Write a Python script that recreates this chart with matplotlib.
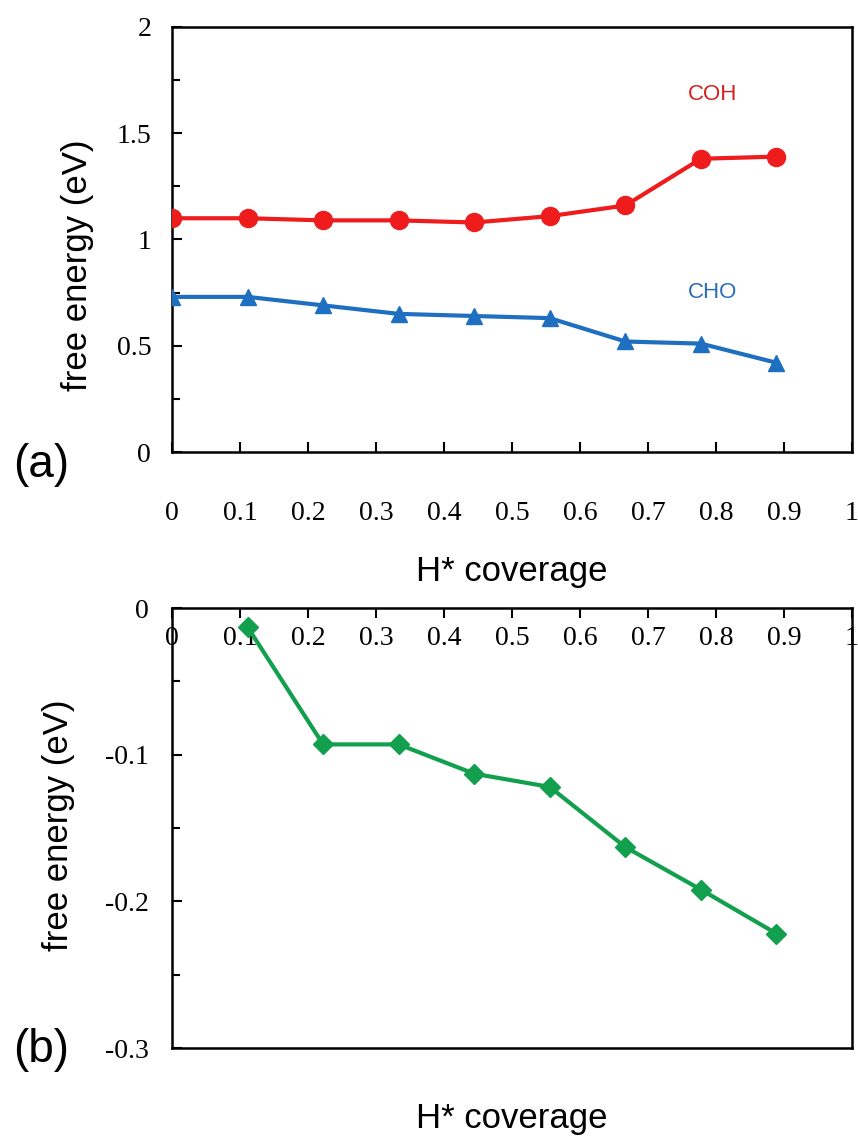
import matplotlib
matplotlib.use("Agg")
import matplotlib.pyplot as plt
from matplotlib.ticker import MultipleLocator, FuncFormatter

plt.rcParams['axes.unicode_minus'] = False

coverage = [0, 1/9, 2/9, 3/9, 4/9, 5/9, 6/9, 7/9, 8/9]
coh = [1.10, 1.10, 1.09, 1.09, 1.08, 1.11, 1.16, 1.38, 1.39]
cho = [0.73, 0.73, 0.69, 0.65, 0.64, 0.63, 0.52, 0.51, 0.42]
coverage_b = [1/9, 2/9, 3/9, 4/9, 5/9, 6/9, 7/9, 8/9]
diff = [-0.013, -0.093, -0.093, -0.113, -0.122, -0.163, -0.192, -0.222]

RED = '#ee1c1c'
BLUE = '#1f6fc0'
GREEN = '#12a04e'

W, H = 858, 1142
fig = plt.figure(figsize=(W/100, H/100), dpi=100)

serif = 'Liberation Serif'
sans = 'Liberation Sans'
fmt = FuncFormatter(lambda v, p: ('%g' % round(v, 6)))
TICKFS = 20
LABFS = 25

def px_axes(l, t, r, b):
    return [l/W, 1 - b/H, (r-l)/W, (b-t)/H]

# ---------- (a) ----------
ax1 = fig.add_axes(px_axes(172, 27, 852, 452))
ax1.plot(coverage, coh, color=RED, lw=3, marker='o', ms=13, mfc=RED, mec=RED, zorder=3)
ax1.plot(coverage, cho, color=BLUE, lw=3, marker='^', ms=12, mfc=BLUE, mec=BLUE, zorder=3)
ax1.set_xlim(0, 1)
ax1.set_ylim(0, 2)
ax1.xaxis.set_major_locator(MultipleLocator(0.1))
ax1.yaxis.set_major_locator(MultipleLocator(0.5))
ax1.yaxis.set_minor_locator(MultipleLocator(0.25))
ax1.xaxis.set_major_formatter(fmt)
ax1.yaxis.set_major_formatter(fmt)
ax1.tick_params(axis='x', which='major', direction='in', length=7, width=1.5, pad=35)
ax1.tick_params(axis='y', which='both', direction='in', length=7, width=1.5, pad=15)
ax1.tick_params(axis='y', which='minor', length=6)
for lab in ax1.get_xticklabels() + ax1.get_yticklabels():
    lab.set_fontfamily(serif)
    lab.set_fontsize(TICKFS)
for s in ax1.spines.values():
    s.set_linewidth(1.8)
ax1.text(0.795, 1.68, 'COH', color='#d42020', fontsize=16, family=sans, ha='center', va='center')
ax1.text(0.795, 0.75, 'CHO', color='#2a6db5', fontsize=16, family=sans, ha='center', va='center')
ax1.set_xlabel('H* coverage', fontsize=LABFS, family=sans)
ax1.xaxis.set_label_coords(0.5, (452-555)/425)
ax1.set_ylabel('free energy (eV)', fontsize=LABFS, family=sans)
ax1.yaxis.set_label_coords((94-172)/680, (452-265)/425)
fig.text(41/W, 1-465/H, '(a)', fontsize=33, family=sans, ha='center', va='center')

# ---------- (b) ----------
ax2 = fig.add_axes(px_axes(172, 608, 852, 1048))
ax2.plot(coverage_b, diff, color=GREEN, lw=3, marker='D', ms=10, mfc=GREEN, mec=GREEN, zorder=3)
ax2.set_xlim(0, 1)
ax2.set_ylim(-0.3, 0)
ax2.xaxis.set_major_locator(MultipleLocator(0.1))
ax2.yaxis.set_major_locator(MultipleLocator(0.1))
ax2.yaxis.set_minor_locator(MultipleLocator(0.05))
ax2.xaxis.set_major_formatter(fmt)
ax2.yaxis.set_major_formatter(fmt)
ax2.xaxis.tick_top()
ax2.tick_params(axis='x', which='major', direction='in', length=7, width=1.5, pad=-31)
ax2.tick_params(axis='y', which='both', direction='in', length=7, width=1.5, pad=17)
ax2.tick_params(axis='y', which='minor', length=6)
for lab in ax2.get_xticklabels() + ax2.get_yticklabels():
    lab.set_fontfamily(serif)
    lab.set_fontsize(TICKFS)
for s in ax2.spines.values():
    s.set_linewidth(1.8)
ax2.set_xlabel('H* coverage', fontsize=LABFS, family=sans)
ax2.xaxis.set_label_position('bottom')
ax2.xaxis.set_label_coords(0.5, (1048-1102)/440)
ax2.set_ylabel('free energy (eV)', fontsize=LABFS, family=sans)
ax2.yaxis.set_label_coords((75-172)/680, (1048-825)/440)
fig.text(41/W, 1-1050/H, '(b)', fontsize=33, family=sans, ha='center', va='center')

fig.savefig('out.png', dpi=100)
